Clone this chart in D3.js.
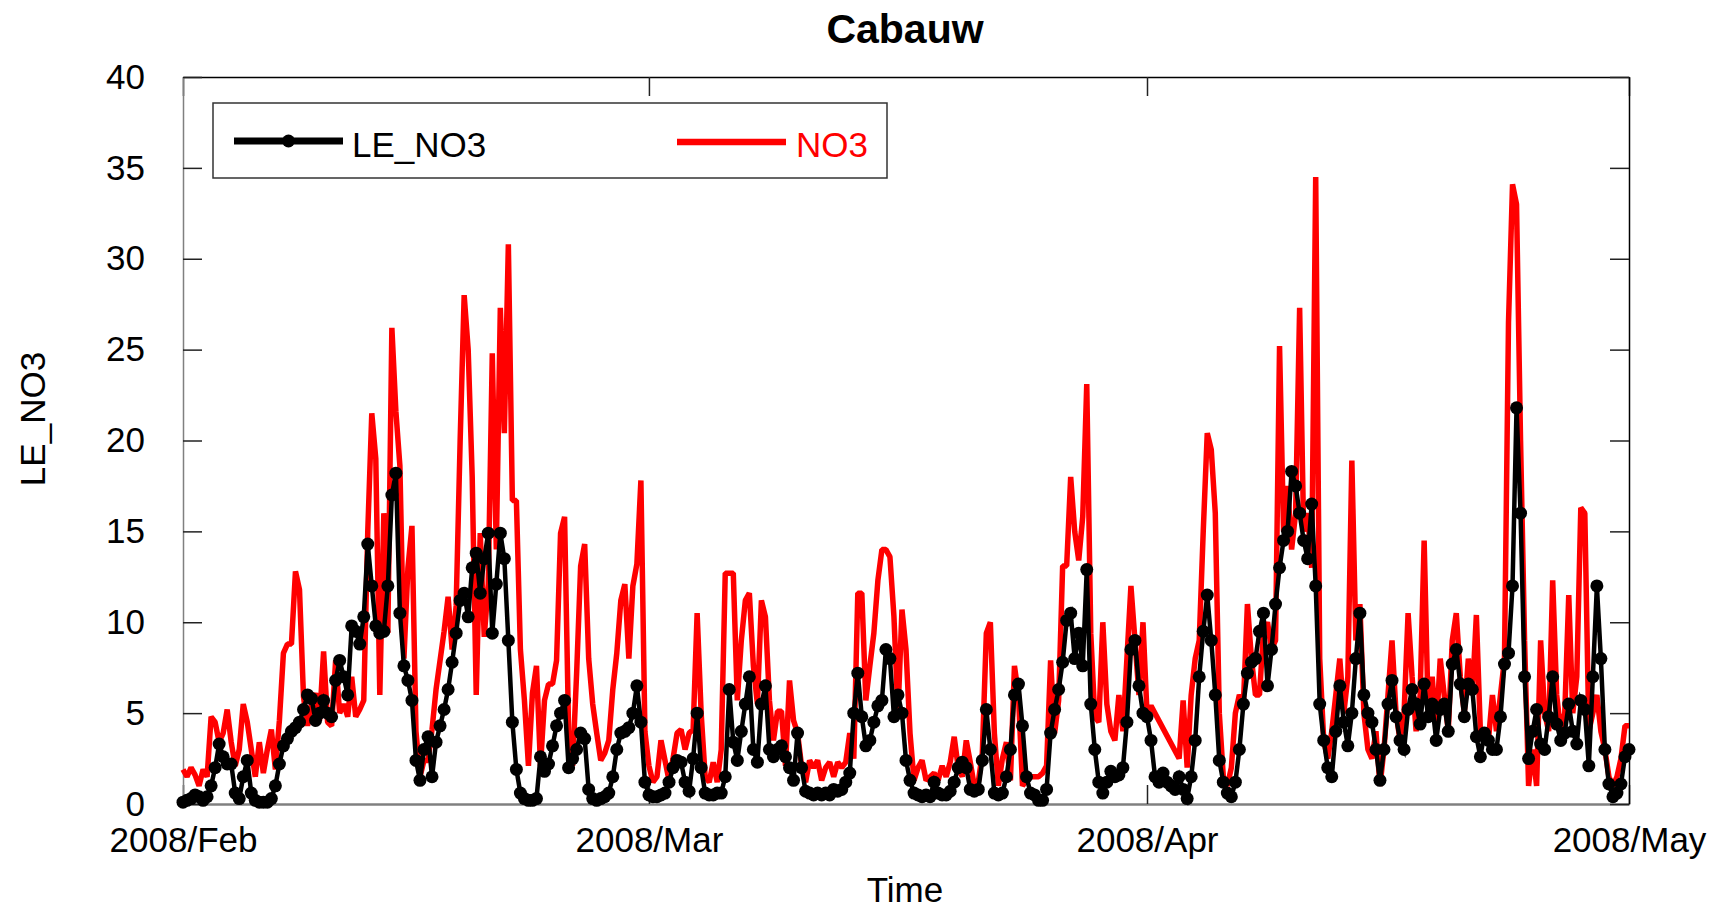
<!DOCTYPE html>
<html>
<head>
<meta charset="utf-8">
<title>Cabauw</title>
<script src="https://cdn.jsdelivr.net/npm/d3@7"></script>
<style>
body { margin: 0; background: #fff; }
text { font-family: "Liberation Sans", Arial, sans-serif; }
</style>
</head>
<body>
<script>
// time axis: one value every 6 hours from 2008-02-01 00 UTC
var startTime = '2008-02-01T00:00:00Z';
var endTime = '2008-05-01T00:00:00Z';
var stepHours = 6;
var monthTicks = ['2008-02-01', '2008-03-01', '2008-04-01', '2008-05-01'];
var yTicks = [0, 5, 10, 15, 20, 25, 30, 35, 40];

// LE_NO3 (model), 4 values per day
var leNO3 = [
    0.1, 0.2, 0.3, 0.5,   0.4, 0.2, 0.4, 1.0,   2.0, 3.3, 2.6, 2.2,   2.2, 0.6, 0.3, 1.5,
    2.4, 0.6, 0.2, 0.1,   0.1, 0.1, 0.3, 1.0,   2.2, 3.2, 3.6, 4.0,   4.2, 4.5, 5.2, 6.0,
    5.8, 4.6, 5.0, 5.7,   5.0, 4.8, 6.8, 7.9,   7.0, 6.0, 9.8, 9.5,   8.8, 10.3, 14.3, 12.0,
    9.8, 9.4, 9.5, 12.0,  17.0, 18.2, 10.5, 7.6, 6.8, 5.7, 2.4, 1.3,  3.0, 3.7, 1.5, 3.4,
    4.3, 5.2, 6.3, 7.8,   9.4, 11.2, 11.6, 10.3, 13.0, 13.8, 11.6, 13.5, 14.9, 9.4, 12.1, 14.9,
    13.5, 9.0, 4.5, 1.9,  0.6, 0.3, 0.2, 0.2,   0.3, 2.6, 1.8, 2.2,   3.2, 4.3, 5.0, 5.7,
    2.0, 2.5, 3.0, 3.9,   3.6, 0.8, 0.3, 0.2,   0.3, 0.4, 0.6, 1.5,   3.0, 3.9, 4.0, 4.2,
    5.0, 6.5, 4.5, 1.2,   0.5, 0.4, 0.4, 0.5,   0.6, 1.2, 2.0, 2.4,   2.3, 1.2, 0.7, 2.5,
    5.0, 2.0, 0.6, 0.5,   0.5, 0.6, 0.6, 1.5,   6.3, 3.4, 2.4, 4.0,   5.5, 7.0, 3.0, 2.3,
    5.5, 6.5, 3.0, 2.6,   3.0, 3.2, 2.6, 2.0,   1.3, 3.9, 2.0, 0.7,   0.6, 0.5, 0.6, 0.5,
    0.6, 0.5, 0.8, 0.7,   0.8, 1.2, 1.7, 5.0,   7.2, 4.8, 3.2, 3.5,   4.5, 5.4, 5.7, 8.5,
    8.0, 4.8, 6.0, 5.0,   2.4, 1.3, 0.6, 0.5,   0.4, 0.5, 0.4, 1.2,   0.6, 0.5, 0.5, 0.7,
    1.2, 2.0, 2.3, 2.0,   0.8, 0.7, 0.8, 2.4,   5.2, 3.0, 0.6, 0.5,   0.6, 1.5, 3.0, 6.0,
    6.6, 4.3, 1.5, 0.6,   0.5, 0.2, 0.2, 0.8,   3.9, 5.2, 6.3, 7.8,   10.1, 10.5, 8.0, 9.4,
    7.6, 12.9, 5.5, 3.0,  1.2, 0.6, 1.2, 1.8,   1.5, 1.6, 2.0, 4.5,   8.5, 9.0, 6.5, 5.0,
    4.8, 3.5, 1.5, 1.2,   1.7, 1.2, 1.0, 0.8,   1.5, 0.8, 0.3, 1.5,   3.5, 7.0, 9.5, 11.5,
    9.0, 6.0, 2.4, 1.2,   0.6, 0.4, 1.2, 3.0,   5.5, 7.2, 7.8, 8.0,   9.5, 10.5, 6.5, 8.5,
    11.0, 13.0, 14.5, 15.0, 18.3, 17.5, 16.0, 14.5, 13.5, 16.5, 12.0, 5.5, 3.5, 2.0, 1.5, 4.0,
    6.5, 4.5, 3.2, 5.0,   8.0, 10.5, 6.0, 5.0,  4.5, 3.0, 1.3, 3.0,   5.5, 6.8, 4.8, 3.5,
    3.0, 5.2, 6.3, 5.5,   4.4, 6.6, 4.8, 5.5,   3.5, 5.2, 5.5, 4.0,   7.7, 8.5, 6.6, 4.8,
    6.6, 6.3, 3.7, 2.6,   3.9, 3.5, 3.0, 3.0,   4.8, 7.7, 8.3, 12.0,  21.8, 16.0, 7.0, 2.5,
    4.0, 5.2, 3.3, 3.0,   4.8, 7.0, 4.4, 3.5,   3.9, 5.5, 4.0, 3.3,   5.7, 5.2, 2.1, 7.0,
    12.0, 8.0, 3.0, 1.1,  0.4, 0.6, 1.1, 2.6,
    3.0
];

// NO3 (observed), 4 values per day, null = missing
var no3 = [
    1.9, 1.5, 2.0, 1.6,   1.0, 1.9, 1.5, 4.8,   4.5, 3.4, 3.9, 5.2,   3.4, 2.1, 3.0, 5.5,
    4.5, 3.0, 1.5, 3.4,   1.7, 3.0, 4.1, 1.9,   4.6, 8.3, 8.8, 8.8,   12.8, 11.8, 5.9, 4.3,
    5.5, 6.1, 4.6, 8.4,   4.5, 4.3, 7.9, 5.0,   5.5, 4.8, 7.0, 4.8,   5.2, 5.7, 15.0, 21.5,
    19.0, 6.0, 16.0, 9.4, 26.2, 21.6, 18.6, 8.0, 13.0, 15.3, 4.0, 1.5, 2.4, 2.4, 4.1, 6.3,
    7.9, 9.5, 11.4, 8.5,  10.9, 20.0, 28.0, 25.0, 18.0, 6.0, 14.9, 9.2, 12.1, 24.8, 14.0, 27.3,
    20.4, 30.8, 16.7, 16.7, 8.5, 5.7, 2.1, 6.1, 7.6, 2.1, 5.7, 6.6,   6.6, 7.9, 14.9, 15.8,
    4.0, 2.1, 7.2, 13.1,  14.3, 8.0, 5.5, 3.9,  2.4, 2.8, 3.5, 6.3,   8.3, 11.2, 12.1, 8.0,
    12.0, 13.2, 17.8, 4.0, 2.1, 1.2, 1.5, 3.5,  2.4, 1.3, 2.5, 3.9,   4.1, 3.0, 3.9, 4.1,
    10.5, 5.0, 1.5, 1.2,  2.3, 1.2, 3.0, 12.7,  12.7, 12.7, 5.7, 9.0, 11.2, 11.6, 7.6, 5.5,
    11.2, 10.3, 5.7, 3.5, 5.1, 5.1, 2.1, 6.8,   4.6, 3.9, 2.1, 1.2,   2.4, 2.0, 2.4, 1.3,
    2.0, 2.3, 1.5, 2.3,   2.0, 2.3, 3.9, 2.5,   11.6, 11.6, 5.7, 7.6, 9.4, 12.3, 14.0, 14.0,
    13.6, 10.3, 5.0, 10.7, 8.5, 3.9, 1.3, 2.0,  2.4, 1.3, 1.5, 1.7,   1.3, 2.1, 1.5, 2.3,
    3.7, 2.0, 1.5, 3.5,   2.3, 1.0, 1.2, 2.8,   9.4, 10.0, 3.9, 1.0,  2.5, 3.4, 1.3, 7.6,
    6.0, 1.0, 1.3, 1.5,   1.5, 1.5, 1.7, 2.1,   7.9, 3.9, 5.7, 13.1,  13.1, 18.0, 15.0, 13.4,
    15.8, 23.1, 9.4, 4.8, 4.5, 10.0, 5.5, 4.0,  3.5, 6.0, 4.0, 8.0,   12.0, 9.0, 6.0, 10.0,
    5.0, 5.4, null, null, null, null, null, null, 2.5, 5.7, 2.0, 6.0, 8.0, 9.0, 15.0, 20.4,
    19.5, 16.0, 5.0, 1.5, 1.0, 2.0, 5.0, 6.0,   5.5, 11.0, 8.0, 6.0,  6.0, 9.5, 10.0, 8.5,
    9.0, 25.2, 15.0, 17.5, 14.0, 16.0, 27.3, 15.0, 16.0, 13.0, 34.5, 8.0, 3.5, 2.5, 4.0, 6.0,
    8.0, 5.0, 7.0, 18.9,  9.0, 11.0, 5.0, 3.0,  2.5, 4.0, 1.0, 3.0,   6.0, 9.0, 5.0, 3.5,
    5.0, 10.5, 7.0, 4.0,  6.0, 14.5, 5.0, 7.0,  4.0, 8.0, 6.0, 4.0,   9.0, 10.5, 7.0, 5.0,
    8.0, 6.0, 10.4, 4.0,  4.0, 3.5, 6.0, 4.0,   6.0, 8.0, 26.5, 34.1, 33.0, 20.0, 9.0, 1.0,
    3.0, 1.0, 9.0, 5.0,   4.0, 12.3, 6.0, 4.0,  5.0, 11.5, 5.0, 7.0,  16.3, 16.0, 4.0, 5.0,
    6.0, 4.0, 3.0, 1.5,   1.0, 1.5, 2.5, 4.3,
    4.3
];

var W = 1722, H = 910;
// plot box (named so they don't clash with window.top etc.)
var pLeft = 183, pRight = 1629, pTop = 77, pBottom = 804;

var svg = d3.select('body').append('svg')
    .attr('width', W)
    .attr('height', H)
;

var t0 = new Date(startTime);
var x = d3.scaleUtc()
    .domain([t0, new Date(endTime)])
    .range([pLeft, pRight]);
var y = d3.scaleLinear()
    .domain([0, 40])
    .range([pBottom, pTop]);

var toPoints = function (arr) {
    return arr.map(function (v, i) {
        return { t: d3.utcHour.offset(t0, i * stepHours), v: v };
    }).filter(function (d) { return d.v !== null; });
};
var lePts = toPoints(leNO3);
var no3Pts = toPoints(no3);

var monthDates = monthTicks.map(function (s) { return new Date(s + 'T00:00:00Z'); });

// axes, ticks pointing inward
var gx = svg.append('g')
    .attr('transform', 'translate(0,' + pBottom + ')')
    .call(d3.axisBottom(x).tickValues(monthDates).tickFormat(d3.utcFormat('%Y/%b'))
        .tickSizeInner(-19).tickSizeOuter(0).tickPadding(23));
var gxt = svg.append('g')
    .attr('transform', 'translate(0,' + pTop + ')')
    .call(d3.axisTop(x).tickValues(monthDates).tickFormat('')
        .tickSizeInner(-19).tickSizeOuter(0));
var gy = svg.append('g')
    .attr('transform', 'translate(' + pLeft + ',0)')
    .call(d3.axisLeft(y).tickValues(yTicks).tickSizeInner(-19).tickSizeOuter(0).tickPadding(38));
var gyr = svg.append('g')
    .attr('transform', 'translate(' + pRight + ',0)')
    .call(d3.axisRight(y).tickValues(yTicks).tickFormat('')
        .tickSizeInner(-19).tickSizeOuter(0));

svg.selectAll('.tick text')
    .style('font-size', '35px')
    .style('font-family', '"Liberation Sans", Arial, sans-serif')
    .attr('fill', '#000');
svg.selectAll('.tick line').attr('stroke', '#222').attr('stroke-width', 1.5);
gx.select('.domain').attr('stroke', '#808080').attr('stroke-width', 2.5);
gy.select('.domain').attr('stroke', '#808080').attr('stroke-width', 1.5);
gxt.select('.domain').attr('stroke', '#000').attr('stroke-width', 1.5);
gyr.select('.domain').attr('stroke', '#000').attr('stroke-width', 1.5);

// NO3 line (red) underneath
var line = d3.line()
    .x(function (d) { return x(d.t); })
    .y(function (d) { return y(d.v); });

svg.append('path')
    .datum(no3Pts)
    .attr('fill', 'none')
    .attr('stroke', '#ff0000')
    .attr('stroke-width', 5.5)
    .attr('stroke-linejoin', 'bevel')
    .attr('d', line);

// LE_NO3 line with markers
svg.append('path')
    .datum(lePts)
    .attr('fill', 'none')
    .attr('stroke', '#000')
    .attr('stroke-width', 4.5)
    .attr('d', line);

svg.append('g').selectAll('circle')
    .data(lePts)
    .enter().append('circle')
        .attr('cx', function (d) { return x(d.t); })
        .attr('cy', function (d) { return y(d.v); })
        .attr('r', 6.5)
        .attr('fill', '#000')
;

// legend
var lg = svg.append('g');
lg.append('rect')
    .attr('x', 213).attr('y', 103)
    .attr('width', 674).attr('height', 75)
    .attr('fill', '#fff')
    .attr('stroke', '#333')
    .attr('stroke-width', 1.5);
lg.append('line')
    .attr('x1', 234).attr('x2', 343).attr('y1', 141).attr('y2', 141)
    .attr('stroke', '#000').attr('stroke-width', 7);
lg.append('circle')
    .attr('cx', 288.5).attr('cy', 141).attr('r', 6.5).attr('fill', '#000');
lg.append('text')
    .attr('x', 352).attr('y', 157)
    .style('font-size', '35px')
    .attr('fill', '#000')
    .text('LE_NO3');
lg.append('line')
    .attr('x1', 677).attr('x2', 786).attr('y1', 142).attr('y2', 142)
    .attr('stroke', '#ff0000').attr('stroke-width', 6.5);
lg.append('text')
    .attr('x', 796).attr('y', 157)
    .style('font-size', '35px')
    .attr('fill', '#ff0000')
    .text('NO3');

// titles
svg.append('text')
    .attr('x', (pLeft + pRight) / 2 - 1).attr('y', 43)
    .attr('text-anchor', 'middle')
    .style('font-size', '41px')
    .style('font-weight', 'bold')
    .text('Cabauw');
svg.append('text')
    .attr('x', 905).attr('y', 902)
    .attr('text-anchor', 'middle')
    .style('font-size', '35px')
    .text('Time');
svg.append('text')
    .attr('transform', 'translate(45,419) rotate(-90)')
    .attr('text-anchor', 'middle')
    .style('font-size', '35px')
    .text('LE_NO3');
</script>
</body>
</html>
